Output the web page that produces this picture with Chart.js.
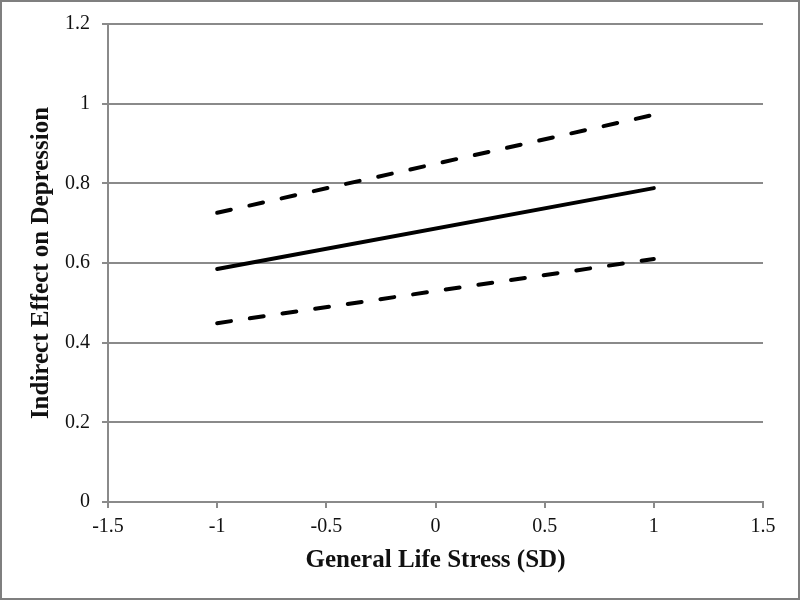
<!DOCTYPE html>
<html>
<head>
<meta charset="utf-8">
<script src="https://cdn.jsdelivr.net/npm/chart.js@4/dist/chart.umd.min.js"></script>
<style>
  html, body { margin: 0; padding: 0; background: #fff; }
  #wrap { width: 800px; height: 600px; position: relative; }
</style>
</head>
<body>
<div id="wrap"><canvas id="myChart" width="800" height="600"></canvas></div>
<script>
// stress levels (SD) at which the indirect effect was probed
const stressLevels = [-1, 1];
// indirect effect estimate and its confidence bounds
const estimate = [0.585, 0.788];
const upperBound = [0.726, 0.972];
const lowerBound = [0.449, 0.61];

// axis ticks
const xTicks = [-1.5, -1, -0.5, 0, 0.5, 1, 1.5];
const yTicks = [0, 0.2, 0.4, 0.6, 0.8, 1, 1.2];

const gridGray = "#8a8a8a";
const serif = "'Liberation Serif', 'Times New Roman', serif";

const toPoints = (ys) => stressLevels.map((x, i) => ({ x: x, y: ys[i] }));

// gray frame round the whole picture
const framePlugin = {
  id: "frame",
  afterDraw(chart) {
    const ctx = chart.ctx;
    ctx.save();
    ctx.strokeStyle = "#7f7f7f";
    ctx.lineWidth = 2;
    ctx.strokeRect(1, 1, chart.width - 2, chart.height - 2);
    ctx.restore();
  },
};

const dashed = [14, 19];

const ctx = document.getElementById("myChart").getContext("2d");
new Chart(ctx, {
  type: "scatter",
  data: {
    datasets: [
      {
        label: "Upper bound",
        data: toPoints(upperBound),
        showLine: true,
        borderColor: "#000",
        borderWidth: 4,
        borderDash: dashed,
        borderCapStyle: "round",
        pointRadius: 0,
      },
      {
        label: "Estimate",
        data: toPoints(estimate),
        showLine: true,
        borderColor: "#000",
        borderWidth: 4,
        borderCapStyle: "round",
        pointRadius: 0,
      },
      {
        label: "Lower bound",
        data: toPoints(lowerBound),
        showLine: true,
        borderColor: "#000",
        borderWidth: 4,
        borderDash: dashed,
        borderCapStyle: "round",
        pointRadius: 0,
      },
    ],
  },
  options: {
    responsive: false,
    animation: false,
    layout: { padding: { top: 24, right: 37, bottom: 0, left: 0 } },
    plugins: {
      legend: { display: false },
      tooltip: { enabled: false },
    },
    scales: {
      x: {
        type: "linear",
        min: -1.5,
        max: 1.5,
        afterBuildTicks: (scale) => {
          scale.ticks = xTicks.map((v) => ({ value: v }));
        },
        afterFit: (scale) => {
          scale.height = 98;
        },
        grid: {
          drawOnChartArea: false,
          drawTicks: true,
          tickLength: 6,
          color: gridGray,
          lineWidth: 2,
        },
        border: { color: gridGray, width: 2 },
        ticks: {
          padding: 7,
          color: "#111",
          font: { family: serif, size: 20 },
          callback: (v) => String(v),
        },
        title: {
          display: true,
          text: "General Life Stress (SD)",
          color: "#111",
          font: { family: serif, size: 25, weight: "bold" },
          padding: { top: 0, bottom: 24 },
        },
      },
      y: {
        min: 0,
        max: 1.2,
        afterBuildTicks: (scale) => {
          scale.ticks = yTicks.map((v) => ({ value: v }));
        },
        afterFit: (scale) => {
          scale.width = 108;
        },
        grid: {
          drawTicks: true,
          tickLength: 6,
          color: gridGray,
          lineWidth: 2,
        },
        border: { color: gridGray, width: 2 },
        ticks: {
          padding: 12,
          color: "#111",
          font: { family: serif, size: 20 },
          callback: (v) => String(v),
        },
        title: {
          display: true,
          text: "Indirect Effect on Depression",
          color: "#111",
          font: { family: serif, size: 25, weight: "bold" },
          padding: { top: 27, bottom: 0 },
        },
      },
    },
  },
  plugins: [framePlugin],
});
</script>
</body>
</html>
